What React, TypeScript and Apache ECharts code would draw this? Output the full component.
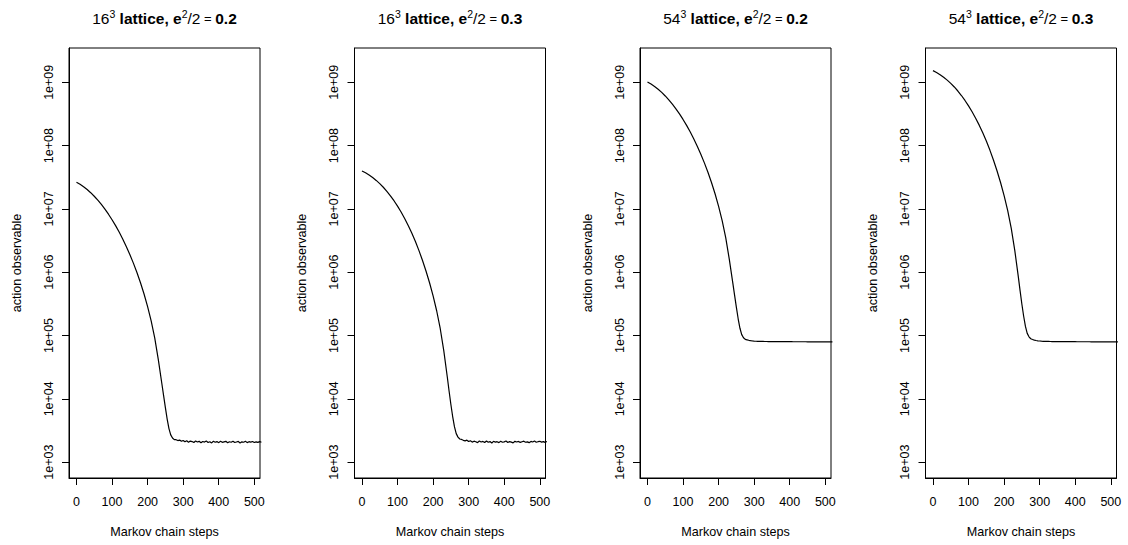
import { useEffect, useRef } from "react";
import * as echarts from "echarts";

// Markov chain step positions of the read-off points
const steps = [
  0, 10, 20, 30, 40, 50, 60, 70, 80, 90, 100, 110, 120, 130, 140, 150, 160, 170, 180, 190, 200, 210, 220, 230, 240,
  245, 250, 255, 260, 265, 270, 275,
  280, 285, 290, 295, 300, 305, 310, 315, 320, 325, 330, 335, 340, 345, 350, 355, 360, 365, 370, 375, 380, 385, 390, 395,
  400, 405, 410, 415, 420, 425, 430, 435, 440, 445, 450, 455, 460, 465, 470, 475, 480, 485, 490, 495, 500, 505, 510, 515, 520,
];

// 16^3 lattice, e^2/2 = 0.2
const lattice16e02 = [
  2.63e7, 2.443e7, 2.239e7, 2.023e7, 1.803e7, 1.585e7, 1.374e7, 1.175e7, 9.908e6, 8.241e6, 6.745e6, 5.433e6, 4.305e6,
  3.35e6, 2.553e6, 1.905e6, 1.39e6, 9.886e5, 6.808e5, 4.519e5, 2.864e5, 1.706e5, 9.162e4, 4.188e4, 1.746e4,
  1.122e4, 7244, 4786, 3388, 2692, 2399, 2265,
  2260, 2190, 2230, 2130, 2200, 2090, 2170, 2060, 2150, 2110, 2040, 2160, 2080, 2130, 2020, 2120, 2070, 2150, 2040, 2100,
  2010, 2130, 2060, 2110, 2030, 2140, 2050, 2090, 2130, 2020, 2100, 2060, 2140, 2040, 2080, 2120, 2010, 2090, 2060, 2130,
  2030, 2100, 2070, 2120, 2040, 2090, 2050, 2110, 2060,
];

// 16^3 lattice, e^2/2 = 0.3
const lattice16e03 = [
  3.981e7, 3.715e7, 3.428e7, 3.126e7, 2.818e7, 2.506e7, 2.198e7, 1.897e7, 1.611e7, 1.346e7, 1.104e7, 8.913e6, 7.063e6,
  5.483e6, 4.159e6, 3.076e6, 2.213e6, 1.545e6, 1.045e6, 6.808e5, 4.227e5, 2.46e5, 1.291e5, 5.768e4, 2.193e4,
  1.318e4, 8128, 5248, 3631, 2818, 2483, 2317,
  2280, 2210, 2170, 2220, 2110, 2180, 2070, 2140, 2100, 2030, 2150, 2080, 2120, 2040, 2160, 2060, 2110, 2000, 2130, 2070,
  2100, 2030, 2140, 2060, 2090, 2150, 2040, 2110, 2070, 2010, 2130, 2080, 2120, 2050, 2100, 2140, 2060, 2090, 2030, 2120,
  2080, 2150, 2060, 2100, 2130, 2070, 2110, 2050, 2120,
];

// 54^3 lattice, e^2/2 = 0.2
const lattice54e02 = [
  1.009e9, 9.376e8, 8.59e8, 7.762e8, 6.918e8, 6.081e8, 5.272e8, 4.508e8, 3.802e8, 3.162e8, 2.588e8, 2.084e8, 1.652e8,
  1.285e8, 9.795e7, 7.311e7, 5.333e7, 3.793e7, 2.612e7, 1.734e7, 1.099e7, 6.546e6, 3.516e6, 1.607e6, 6.699e5,
  4.305e5, 2.78e5, 1.837e5, 1.3e5, 1.033e5, 9.204e4, 8.69e4,
  8.55e4, 8.4e4, 8.3e4, 8.22e4, 8.16e4, 8.12e4, 8.1e4, 8.08e4, 8.06e4, 8.05e4,
  8.04e4, 8.04e4, 8.03e4, 8.02e4, 8.02e4, 8.01e4, 8.01e4, 8.0e4, 8.0e4, 8.0e4,
  7.99e4, 7.99e4, 7.99e4, 7.98e4, 7.98e4, 7.98e4, 7.97e4, 7.97e4, 7.97e4, 7.97e4,
  7.96e4, 7.96e4, 7.96e4, 7.96e4, 7.95e4, 7.95e4, 7.95e4, 7.95e4, 7.95e4, 7.94e4,
  7.94e4, 7.94e4, 7.94e4, 7.94e4, 7.93e4, 7.93e4, 7.93e4, 7.93e4, 7.93e4,
];

// 54^3 lattice, e^2/2 = 0.3
const lattice54e03 = [
  1.528e9, 1.426e9, 1.315e9, 1.199e9, 1.081e9, 9.616e8, 8.433e8, 7.278e8, 6.18e8, 5.164e8, 4.236e8, 3.42e8, 2.71e8,
  2.104e8, 1.596e8, 1.18e8, 8.492e7, 5.929e7, 4.009e7, 2.612e7, 1.622e7, 9.441e6, 4.955e6, 2.213e6, 8.414e5,
  5.058e5, 3.119e5, 2.014e5, 1.393e5, 1.081e5, 9.528e4, 8.892e4,
  8.65e4, 8.46e4, 8.33e4, 8.24e4, 8.18e4, 8.13e4, 8.1e4, 8.08e4, 8.06e4, 8.05e4,
  8.04e4, 8.03e4, 8.03e4, 8.02e4, 8.02e4, 8.01e4, 8.01e4, 8.0e4, 8.0e4, 7.99e4,
  7.99e4, 7.99e4, 7.98e4, 7.98e4, 7.98e4, 7.97e4, 7.97e4, 7.97e4, 7.97e4, 7.96e4,
  7.96e4, 7.96e4, 7.96e4, 7.95e4, 7.95e4, 7.95e4, 7.95e4, 7.94e4, 7.94e4, 7.94e4,
  7.94e4, 7.94e4, 7.93e4, 7.93e4, 7.93e4, 7.93e4, 7.93e4, 7.92e4, 7.92e4,
];

const xTicks = [0, 100, 200, 300, 400, 500];
const yTicks = [1e3, 1e4, 1e5, 1e6, 1e7, 1e8, 1e9];
const latticeSizes = ["16", "16", "54", "54"];
const couplings = ["0.2", "0.3", "0.2", "0.3"];
const panelSeries = [lattice16e02, lattice16e03, lattice54e02, lattice54e03];

const FONT = "'Liberation Sans', Arial, Helvetica, sans-serif";

export default function App() {
  const ref = useRef<HTMLDivElement>(null);

  useEffect(() => {
    if (!ref.current) return;
    const chart = echarts.init(ref.current, undefined, { renderer: "svg" });

    const lefts = [69, 354.5, 640, 925.5];
    const gridW = 191;
    const gridTop = 48;
    const gridH = 430;

    const grids = lefts.map((l) => ({
      left: l,
      top: gridTop,
      width: gridW,
      height: gridH,
      show: true,
      borderColor: "#000",
      borderWidth: 1,
      backgroundColor: "transparent",
    }));

    const xAxes = lefts.map((_, i) => ({
      type: "value",
      gridIndex: i,
      min: -21,
      max: 516,
      name: "Markov chain steps",
      nameLocation: "middle",
      nameGap: 47,
      nameTextStyle: { fontFamily: FONT, fontSize: 12.6, color: "#000" },
      axisLine: { show: true, onZero: false, lineStyle: { color: "#000", width: 1 } },
      axisTick: { show: true, inside: false, length: 7, customValues: xTicks, lineStyle: { color: "#000" } },
      axisLabel: {
        show: true,
        customValues: xTicks,
        margin: 17,
        fontFamily: FONT,
        fontSize: 12.5,
        color: "#000",
      },
      splitLine: { show: false },
    }));

    const yAxes = lefts.map((_, i) => ({
      type: "log",
      logBase: 10,
      gridIndex: i,
      min: 561,
      max: 3.48e9,
      name: "action observable",
      nameLocation: "middle",
      nameGap: 46,
      nameRotate: 90,
      nameTextStyle: { fontFamily: FONT, fontSize: 12.6, color: "#000" },
      axisLine: { show: true, onZero: false, lineStyle: { color: "#000", width: 1 } },
      axisTick: { show: true, inside: false, length: 7, customValues: yTicks, lineStyle: { color: "#000" } },
      axisLabel: {
        show: true,
        customValues: yTicks,
        rotate: 90,
        margin: 14,
        fontFamily: FONT,
        fontSize: 12.5,
        color: "#000",
        formatter: (v: number) => {
          const e = Math.round(Math.log10(v));
          return "1e+" + String(e).padStart(2, "0");
        },
      },
      splitLine: { show: false },
    }));

    const titles = lefts.map((l, i) => ({
      left: l + gridW / 2,
      top: 8,
      padding: 0,
      textAlign: "center",
      text: `{n|${latticeSizes[i]}}{s|3}{b| lattice, e}{s|2}{n|/2}{m| = }{b|${couplings[i]}}`,
      textStyle: {
        rich: {
          n: { fontFamily: FONT, fontSize: 15.5, fontWeight: "normal", color: "#000", lineHeight: 20 },
          b: { fontFamily: FONT, fontSize: 15.5, fontWeight: "bold", color: "#000", lineHeight: 20 },
          m: { fontFamily: FONT, fontSize: 13, fontWeight: "normal", color: "#000", lineHeight: 20 },
          s: { fontFamily: FONT, fontSize: 10.5, fontWeight: "normal", color: "#000", lineHeight: 10, verticalAlign: "top" },
        },
      },
    }));

    const series = panelSeries.map((vals, i) => ({
      type: "line",
      xAxisIndex: i,
      yAxisIndex: i,
      data: steps.map((s, k) => [s, vals[k]]),
      showSymbol: false,
      symbol: "none",
      clip: true,
      lineStyle: { color: "#000", width: 1.2 },
    }));

    chart.setOption({
      animation: false,
      backgroundColor: "#fff",
      title: titles,
      grid: grids,
      xAxis: xAxes,
      yAxis: yAxes,
      series,
    });

    return () => chart.dispose();
  }, []);

  return (
    <div
      ref={ref}
      style={{ position: "absolute", left: 0, top: 0, width: 1128, height: 545 }}
    />
  );
}
